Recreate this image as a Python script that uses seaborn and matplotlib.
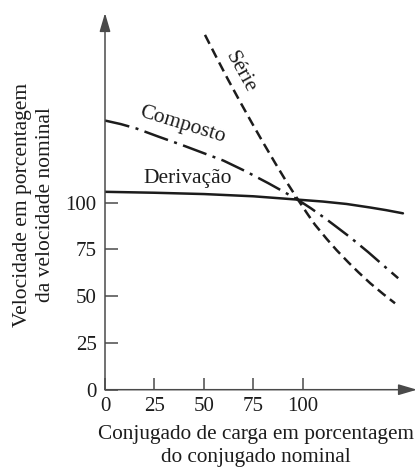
import matplotlib
matplotlib.use("Agg")
import matplotlib.pyplot as plt
import seaborn as sns

# Load torque (% of rated) vs speed (% of rated) for three DC motor types
deriv_x = [0, 25, 50, 75, 97.6, 110, 122, 134, 142, 150.5]
deriv_y = [105.8, 105.3, 104.6, 103.4, 101.6, 100.6, 99.3, 97.4, 96.0, 94.3]

comp_x = [0, 8, 16, 27, 38.7, 49, 59.8, 71, 82.5, 90, 97.6, 104, 111.1, 117,
          123.7, 133, 142.3, 148.1]
comp_y = [143.9, 142.0, 139.6, 135.3, 130.9, 126.8, 122.5, 116.8, 110.4, 106.0,
          101.4, 97.0, 91.7, 87.0, 81.6, 73.5, 64.9, 59.6]

serie_x = [50.5, 56, 62, 68, 74, 80, 86, 92, 97.6, 102, 106, 112, 117, 123,
           128, 134, 140.6, 146.5]
serie_y = [189.7, 178.3, 166.1, 154.4, 143.0, 131.9, 121.1, 110.6, 101.4, 94.4,
           88.3, 80.6, 74.6, 68.0, 62.8, 56.9, 51.1, 46.2]

tick_vals = [0, 25, 50, 75, 100]

sns.set_style("white")
plt.rcParams["font.family"] = ["Liberation Serif", "DejaVu Serif"]

W, H = 417, 468
fig = plt.figure(figsize=(W / 100, H / 100), dpi=100)
x0, y0, x1, y1 = 105, 389.7, 417, 13
ax = fig.add_axes([x0 / W, 1 - y0 / H, (x1 - x0) / W, (y0 - y1) / H])
ax.set_xlim(0, 157.6)
ax.set_ylim(0, 201.4)

ink = "#1c1c1c"
lw = 1.8
sns.lineplot(x=deriv_x, y=deriv_y, ax=ax, color=ink, lw=lw, linestyle="-")
sns.lineplot(x=comp_x, y=comp_y, ax=ax, color=ink, lw=lw,
             linestyle=(0, (10, 2.6, 1.2, 2.6)))
sns.lineplot(x=serie_x, y=serie_y, ax=ax, color=ink, lw=lw,
             linestyle=(0, (4, 2.2)))

# Axes drawn as arrows
for s in ax.spines.values():
    s.set_visible(False)
axis_col = "#4a4a4a"
arrow = dict(arrowstyle="-|>,head_length=0.75,head_width=0.22", color=axis_col,
             lw=1.1, mutation_scale=15, shrinkA=0, shrinkB=0)
ax.annotate("", xy=(0, 1), xytext=(0, 0), xycoords="axes fraction",
            textcoords="axes fraction", arrowprops=arrow, annotation_clip=False)
ax.annotate("", xy=(1, 0), xytext=(0, 0), xycoords="axes fraction",
            textcoords="axes fraction", arrowprops=arrow, annotation_clip=False)

ax.set_xticks(tick_vals)
ax.set_yticks(tick_vals)
ax.set_xticklabels([str(v) for v in tick_vals])
ax.set_yticklabels([str(v) for v in tick_vals])
ax.tick_params(axis="both", direction="in", length=9, width=1.1, color=axis_col,
               labelsize=15, labelcolor=ink)
ax.tick_params(axis="y", pad=6, left=True)
ax.tick_params(axis="x", pad=5, bottom=True)
ax.set_xlabel("")
ax.set_ylabel("")

# Curve labels
ax.text(68.2, 169.9, "Série", rotation=-61, fontsize=15.5, color=ink,
        ha="center", va="center", rotation_mode="anchor")
ax.text(38.9, 141.5, "Composto", rotation=-17, fontsize=15.5, color=ink,
        ha="center", va="center", rotation_mode="anchor")
ax.text(41.7, 112.7, "Derivação", fontsize=15.5, color=ink,
        ha="center", va="center")

fig.text(34 / W, 1 - 205 / H, "Velocidade em porcentagem\nda velocidade nominal",
         rotation=90, ha="center", va="center", fontsize=15.5, color=ink,
         linespacing=1.3, multialignment="center")
fig.text(256 / W, 1 - 446 / H, "Conjugado de carga em porcentagem\ndo conjugado nominal",
         ha="center", va="center", fontsize=15.3, color=ink,
         linespacing=1.33, multialignment="center")

fig.savefig("out.png", dpi=100)
